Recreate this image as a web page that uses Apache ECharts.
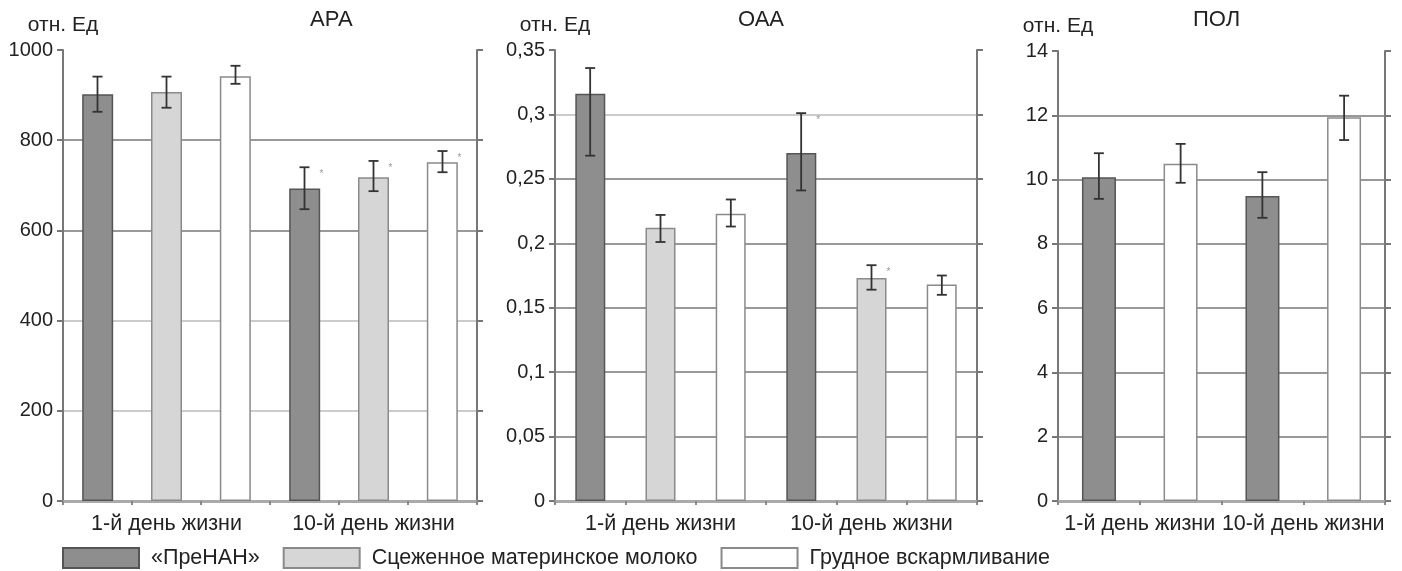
<!DOCTYPE html>
<html>
<head>
<meta charset="utf-8">
<script src="https://cdn.jsdelivr.net/npm/echarts@6.0.0/dist/echarts.min.js"></script>
<style>
  html, body { margin: 0; padding: 0; background: #fff; }
  #chart { width: 1402px; height: 571px; }
</style>
</head>
<body>
<div id="chart"></div>
<script>
// categories and series names
const days = ['1-й день жизни', '10-й день жизни'];
const namePrenan = '«ПреНАН»';
const nameMilk = 'Сцеженное материнское молоко';
const nameBreast = 'Грудное вскармливание';

// АРА, отн. Ед
const apaPrenan = [902, 693];
const apaMilk = [907, 718];
const apaBreast = [942, 751];
const apaPrenanErr = [[863, 941], [647, 740]];
const apaMilkErr = [[872, 941], [687, 754]];
const apaBreastErr = [[925, 965], [729, 776]];
const apaStars = [[0, 1], [0, 1], [0, 1]];

// ОАА, отн. Ед
const oaaPrenan = [0.316, 0.270];
const oaaMilk = [0.212, 0.173];
const oaaBreast = [0.223, 0.168];
const oaaPrenanErr = [[0.268, 0.336], [0.241, 0.301]];
const oaaMilkErr = [[0.201, 0.222], [0.164, 0.183]];
const oaaBreastErr = [[0.213, 0.234], [0.160, 0.175]];
const oaaStars = [[0, 1], [0, 1], [0, 0]];

// ПОЛ, отн. Ед
const polPrenan = [10.07, 9.49];
const polBreast = [10.49, 11.94];
const polPrenanErr = [[9.40, 10.82], [8.81, 10.23]];
const polBreastErr = [[9.90, 11.11], [11.23, 12.61]];
const polStars = [[0, 0], [0, 0]];

const font = "'Liberation Sans', Arial, sans-serif";
const textColor = '#222';

const styles = {
  [namePrenan]: { color: '#8e8e8e', borderColor: '#555', borderWidth: 1.5 },
  [nameMilk]: { color: '#d6d6d6', borderColor: '#8a8a8a', borderWidth: 1.5 },
  [nameBreast]: { color: '#ffffff', borderColor: '#8a8a8a', borderWidth: 1.5 }
};

const panels = [
  { title: 'АРА', titleLeft: 310, grid: { left: 63, right: 925, top: 50, bottom: 70 },
    min: 0, max: 1000, interval: 200, slots: 6, barWidth: 31, barGap: '122%',
    gridColors: ['#bbb', '#bbb', '#777', '#777'],
    names: [namePrenan, nameMilk, nameBreast],
    values: [apaPrenan, apaMilk, apaBreast],
    errs: [apaPrenanErr, apaMilkErr, apaBreastErr], stars: apaStars },
  { title: 'ОАА', titleLeft: 738, grid: { left: 555, right: 425, top: 50, bottom: 70 },
    min: 0, max: 0.35, interval: 0.05, slots: 6, barWidth: 30, barGap: '134%',
    gridColors: ['#777', '#777', '#777', '#777', '#777', '#bbb'],
    names: [namePrenan, nameMilk, nameBreast],
    values: [oaaPrenan, oaaMilk, oaaBreast],
    errs: [oaaPrenanErr, oaaMilkErr, oaaBreastErr], stars: oaaStars },
  { title: 'ПОЛ', titleLeft: 1193, grid: { left: 1058, right: 17, top: 51, bottom: 70 },
    min: 0, max: 14, interval: 2, slots: 4, barWidth: 34, barGap: '140%',
    gridColors: ['#777'],
    names: [namePrenan, nameBreast],
    values: [polPrenan, polBreast],
    errs: [polPrenanErr, polBreastErr], stars: polStars }
];

const fmt = v => String(+v.toFixed(2)).replace('.', ',');

const grid = [], xAxis = [], yAxis = [], series = [], title = [];

panels.forEach((p, i) => {
  grid.push(p.grid);
  title.push({ text: p.title, left: p.titleLeft, top: 9, padding: 0,
    textStyle: { fontSize: 22, fontWeight: 'normal', color: textColor, fontFamily: font } });

  // axis with the day labels (bars live here)
  xAxis.push({
    type: 'category', gridIndex: i, data: days, position: 'bottom',
    axisLine: { show: false }, axisTick: { show: false },
    axisLabel: { interval: 0, fontSize: 21.5, color: textColor, margin: 12, fontFamily: font }
  });
  // axis that only draws the base line and the small ticks between bars
  xAxis.push({
    type: 'category', gridIndex: i, position: 'bottom',
    data: new Array(p.slots).fill(''),
    axisLine: { lineStyle: { color: '#aaa', width: 3 } },
    axisTick: { show: true, interval: 0, length: 4, lineStyle: { color: '#888', width: 2 } },
    axisLabel: { show: false }
  });

  yAxis.push({
    type: 'value', gridIndex: i, min: p.min, max: p.max, interval: p.interval,
    name: 'отн. Ед', nameLocation: 'end', nameGap: 14,
    nameTextStyle: { fontSize: 21, color: textColor, fontFamily: font, align: 'center' },
    axisLine: { show: true, lineStyle: { color: '#777', width: 2 } },
    axisTick: { show: true, length: 6, lineStyle: { color: '#777', width: 2 } },
    axisLabel: { fontSize: 20, color: textColor, margin: 10, fontFamily: font, formatter: fmt },
    splitLine: { show: true, showMinLine: false, showMaxLine: false,
      lineStyle: { color: p.gridColors, width: 1.5 } }
  });
  yAxis.push({
    type: 'value', gridIndex: i, position: 'right', min: p.min, max: p.max, interval: p.interval,
    axisLine: { show: true, lineStyle: { color: '#777', width: 2 } },
    axisTick: { show: true, length: 6, lineStyle: { color: '#777', width: 2 } },
    axisLabel: { show: false },
    splitLine: { show: false }
  });

  p.names.forEach((name, s) => {
    series.push({
      name, type: 'bar', xAxisIndex: 2 * i, yAxisIndex: 2 * i,
      data: p.values[s], barWidth: p.barWidth, barGap: p.barGap,
      itemStyle: styles[name], silent: true
    });
  });

  const n = p.names.length;
  const data = [];
  p.errs.forEach((list, s) => list.forEach((e, g) => data.push([g, e[0], e[1], s, p.stars[s][g]])));
  series.push({
    type: 'custom', xAxisIndex: 2 * i, yAxisIndex: 2 * i, z: 5, silent: true,
    encode: { x: 0, y: [1, 2] },
    data,
    renderItem(params, api) {
      const g = api.value(0), s = api.value(3);
      const step = api.size([1, 0])[0] / n;
      const x = api.coord([g, 0])[0] + (s - (n - 1) / 2) * step;
      const yLo = api.coord([g, api.value(1)])[1];
      const yHi = api.coord([g, api.value(2)])[1];
      const style = { stroke: '#333', lineWidth: 1.8 };
      const children = [
        { type: 'line', shape: { x1: x, y1: yHi, x2: x, y2: yLo }, style },
        { type: 'line', shape: { x1: x - 5, y1: yHi, x2: x + 5, y2: yHi }, style },
        { type: 'line', shape: { x1: x - 5, y1: yLo, x2: x + 5, y2: yLo }, style }
      ];
      if (api.value(4)) {
        children.push({ type: 'text', style: { text: '*', x: x + 15, y: yHi + 2,
          fontSize: 10, fill: '#999', fontFamily: font } });
      }
      return { type: 'group', children };
    }
  });
});

const chart = echarts.init(document.getElementById('chart'));
chart.setOption({
  animation: false,
  backgroundColor: '#fff',
  textStyle: { fontFamily: font },
  title,
  grid,
  xAxis,
  yAxis,
  legend: {
    data: [namePrenan, nameMilk, nameBreast],
    left: 62, top: 547, padding: 0,
    itemWidth: 76, itemHeight: 20, itemGap: 23,
    icon: 'rect', selectedMode: false,
    textStyle: { fontSize: 21.5, color: textColor, fontFamily: font, padding: [0, 0, 0, 7] }
  },
  series
});
</script>
</body>
</html>
